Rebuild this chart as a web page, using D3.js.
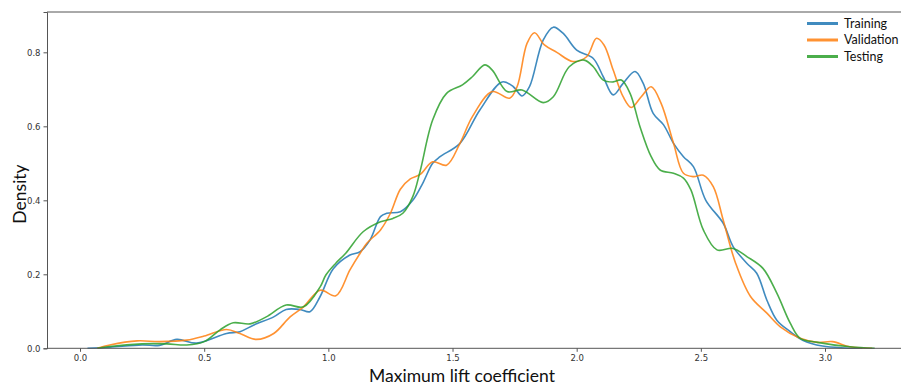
<!DOCTYPE html>
<html>
<head>
<meta charset="utf-8">
<script src="https://cdn.jsdelivr.net/npm/d3@7"></script>
<style>
  body { margin: 0; background: #fff; }
  .tick text { font-family: "DejaVu Sans", sans-serif; font-size: 8.5px; fill: #333; }
</style>
</head>
<body>
<svg id="chart" width="901" height="385"></svg>
<script>
// KDE curves
var trainingX = [0.03,0.12,0.25,0.32,0.39,0.47,0.59,0.644,0.70,0.78,0.83,0.886,0.926,0.967,1.02,1.087,1.128,1.168,1.21,1.235,1.29,1.34,1.38,1.42,1.45,1.53,1.61,1.70,1.745,1.78,1.81,1.865,1.906,1.946,2.0,2.066,2.107,2.147,2.187,2.235,2.268,2.308,2.35,2.39,2.43,2.47,2.52,2.59,2.63,2.685,2.725,2.766,2.806,2.86,2.91,2.99,3.08,3.15];
var trainingY = [0,0.003,0.009,0.008,0.024,0.014,0.04,0.045,0.063,0.085,0.105,0.105,0.099,0.14,0.215,0.252,0.261,0.293,0.356,0.365,0.369,0.40,0.446,0.50,0.518,0.554,0.644,0.72,0.707,0.682,0.707,0.833,0.868,0.851,0.806,0.784,0.734,0.685,0.716,0.748,0.716,0.635,0.604,0.554,0.518,0.491,0.40,0.338,0.275,0.23,0.203,0.13,0.076,0.045,0.022,0.006,0.001,0];

var validationX = [0.07,0.12,0.23,0.32,0.43,0.50,0.59,0.644,0.71,0.78,0.846,0.90,0.967,1.03,1.087,1.128,1.155,1.21,1.25,1.29,1.33,1.37,1.42,1.476,1.53,1.58,1.66,1.73,1.76,1.80,1.83,1.87,1.92,1.985,2.04,2.08,2.11,2.147,2.187,2.22,2.26,2.30,2.34,2.39,2.43,2.47,2.51,2.55,2.59,2.64,2.70,2.766,2.82,2.90,2.97,3.03,3.10,3.19];
var validationY = [0,0.009,0.02,0.018,0.022,0.033,0.051,0.04,0.024,0.04,0.085,0.112,0.157,0.142,0.212,0.257,0.284,0.32,0.365,0.43,0.458,0.47,0.504,0.495,0.554,0.626,0.694,0.676,0.707,0.824,0.853,0.82,0.80,0.775,0.788,0.838,0.82,0.752,0.68,0.651,0.68,0.707,0.662,0.554,0.473,0.464,0.468,0.437,0.347,0.23,0.14,0.095,0.058,0.027,0.016,0.018,0.004,0];

var testingX = [0.07,0.12,0.25,0.35,0.43,0.50,0.564,0.617,0.685,0.75,0.83,0.90,0.967,0.99,1.03,1.07,1.14,1.21,1.26,1.30,1.34,1.37,1.42,1.476,1.54,1.58,1.63,1.66,1.72,1.78,1.865,1.906,1.97,2.03,2.067,2.107,2.147,2.18,2.215,2.255,2.30,2.336,2.39,2.43,2.46,2.51,2.565,2.63,2.685,2.75,2.806,2.86,2.90,2.97,3.10,3.2];
var testingY = [0,0.005,0.012,0.012,0.009,0.018,0.05,0.069,0.066,0.085,0.117,0.112,0.166,0.198,0.23,0.257,0.315,0.342,0.351,0.365,0.41,0.48,0.617,0.689,0.712,0.734,0.766,0.752,0.694,0.698,0.664,0.68,0.761,0.779,0.761,0.725,0.72,0.725,0.689,0.599,0.518,0.482,0.473,0.46,0.428,0.32,0.266,0.27,0.248,0.216,0.149,0.068,0.027,0.016,0.004,0];

var seriesNames = ["Training", "Validation", "Testing"];
var seriesColors = ["#1f77b4", "#ff7f0e", "#2ca02c"];
var xTicks = [0.0, 0.5, 1.0, 1.5, 2.0, 2.5, 3.0];
var yTicks = [0.0, 0.2, 0.4, 0.6, 0.8];

(function draw() {
    var svg = d3.select("#chart");
    var mLeft = 47, mTop = 12, mRight = 900, mBottom = 348.3;

    var x = d3.scaleLinear().domain([-0.133, 3.302]).range([mLeft, mRight]);
    var y = d3.scaleLinear().domain([0, 0.909]).range([mBottom, mTop]);

    var series = [
        { name: seriesNames[0], xs: trainingX, ys: trainingY },
        { name: seriesNames[1], xs: validationX, ys: validationY },
        { name: seriesNames[2], xs: testingX, ys: testingY }
    ];

    var line = d3.line()
        .x(function (d) { return x(d[0]); })
        .y(function (d) { return Math.min(y(d[1]), mBottom); })
        .curve(d3.curveCatmullRom.alpha(0.5));

    svg.append("g").selectAll("path")
        .data(series)
        .enter()
        .append("path")
        .attr("fill", "none")
        .attr("stroke", function (d, i) { return seriesColors[i]; })
        .attr("stroke-opacity", 0.85)
        .attr("stroke-width", 1.6)
        .attr("d", function (d) { return line(d3.zip(d.xs, d.ys)); });

    // axes
    var xAxis = svg.append("g")
        .attr("transform", "translate(0," + mBottom + ")")
        .call(d3.axisBottom(x).tickValues(xTicks).tickFormat(d3.format(".1f")).tickSizeOuter(0).tickSize(3.5).tickPadding(3));
    svg.append("g")
        .attr("transform", "translate(" + mLeft + ",0)")
        .call(d3.axisLeft(y).tickValues(yTicks).tickFormat(d3.format(".1f")).tickSizeOuter(0).tickSize(3.5).tickPadding(3));
    svg.selectAll(".domain").attr("stroke", "#555").attr("stroke-width", 1);
    svg.selectAll(".tick line").attr("stroke", "#555");
    xAxis.select(".domain").attr("d", "M" + mLeft + ",0H" + 901);

    // top spine
    svg.append("line")
        .attr("x1", mLeft).attr("x2", 901)
        .attr("y1", mTop).attr("y2", mTop)
        .attr("stroke", "#555").attr("stroke-width", 1);

    // axis titles
    svg.append("text")
        .attr("x", 462).attr("y", 382)
        .attr("text-anchor", "middle")
        .attr("font-family", "Lato, sans-serif")
        .attr("font-size", 17.5)
        .attr("fill", "#111")
        .text("Maximum lift coefficient");

    svg.append("text")
        .attr("transform", "translate(26,194) rotate(-90)")
        .attr("text-anchor", "middle")
        .attr("font-family", "Lato, sans-serif")
        .attr("font-size", 17.5)
        .attr("fill", "#111")
        .text("Density");

    // legend
    var legend = svg.append("g").selectAll("g")
        .data(seriesNames)
        .enter()
        .append("g")
        .attr("transform", function (d, i) { return "translate(807," + (23.5 + i * 16.5) + ")"; });
    legend.append("line")
        .attr("x1", 0).attr("x2", 31)
        .attr("stroke", function (d, i) { return seriesColors[i]; })
        .attr("stroke-opacity", 0.85)
        .attr("stroke-width", 3);
    legend.append("text")
        .attr("x", 37).attr("y", 4)
        .attr("font-family", "Lato, sans-serif")
        .attr("font-size", 12.5)
        .attr("fill", "#111")
        .text(function (d) { return d; });
})();
</script>
</body>
</html>
